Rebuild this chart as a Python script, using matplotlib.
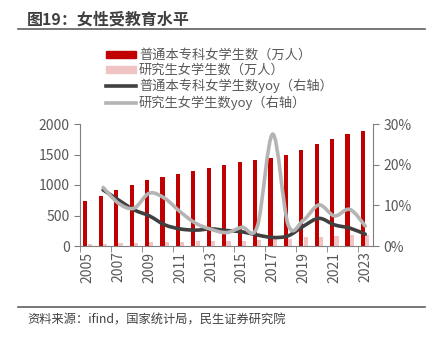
import numpy as np
import matplotlib
matplotlib.use("Agg")
import matplotlib.pyplot as plt
from matplotlib.path import Path
from matplotlib.patches import PathPatch, Patch
from matplotlib.lines import Line2D

plt.rcParams['font.family'] = ['Noto Sans CJK SC', 'DejaVu Sans']

years = list(range(2005, 2024))
undergrad = [730, 825, 920, 1005, 1080, 1130, 1180, 1225, 1275, 1328, 1372, 1415,
             1448, 1492, 1569, 1677, 1754, 1836, 1890]
postgrad = [33, 40, 46, 52, 58, 64, 70, 75, 80, 84, 88, 93, 110, 118, 143, 155, 169, 178, 185]
undergrad_yoy = [None, 13.8, 11.3, 8.9, 7.4, 5.2, 4.2, 3.9, 4.2, 3.8, 3.5, 2.7,
                 2.1, 2.5, 4.9, 6.8, 5.2, 4.4, 2.9]
postgrad_yoy = [None, 14.4, 10.5, 9.3, 13.0, 11.7, 8.4, 5.6, 4.1, 3.3, 4.6, 4.8,
                27.5, 5.2, 6.4, 10.1, 7.4, 9.0, 4.9]

labels = ['普通本专科女学生数（万人）', '研究生女学生数（万人）',
          '普通本专科女学生数yoy（右轴）', '研究生女学生数yoy（右轴）']

red = '#C00000'
pink = '#F0C4C4'
dark = '#404040'
grey = '#B4B4B4'
axc = '#7F7F7F'
txt = '#595959'


def smooth_path(xs, ys):
    # bezier segments through the points, like excel's smoothed line
    pts = np.array(list(zip(xs, ys)), dtype=float)
    verts = [pts[0]]
    codes = [Path.MOVETO]
    n = len(pts)
    for i in range(n - 1):
        p0 = pts[max(i - 1, 0)]
        p1 = pts[i]
        p2 = pts[i + 1]
        p3 = pts[min(i + 2, n - 1)]
        c1 = p1 + (p2 - p0) / 6.0
        c2 = p2 - (p3 - p1) / 6.0
        verts += [c1, c2, p2]
        codes += [Path.CURVE4] * 3
    return Path(verts, codes)


fig = plt.figure(figsize=(4.32, 3.39), dpi=100)
ax = fig.add_axes([80 / 432, 1 - 246 / 339, 293 / 432, 122 / 339])
ax2 = ax.twinx()

x = np.arange(len(years))
ax.bar(x - 0.15, undergrad, width=0.27, color=red, zorder=2)
ax.bar(x + 0.13, postgrad, width=0.27, color=pink, zorder=2)

ax.set_xlim(-0.5, len(years) - 0.5)
ax.set_ylim(0, 2000)
ax.set_yticks([0, 500, 1000, 1500, 2000])
ax2.set_ylim(0, 0.30)
ax2.set_yticks([0, 0.1, 0.2, 0.3])
ax2.set_yticklabels(['0%', '10%', '20%', '30%'])

for vals, c in [(undergrad_yoy, dark), (postgrad_yoy, grey)]:
    xs = [i for i, v in enumerate(vals) if v is not None]
    ys = [v / 100 for v in vals if v is not None]
    ax2.add_patch(PathPatch(smooth_path(xs, ys), fill=False, edgecolor=c,
                            lw=2.6, capstyle='round', zorder=3))

ax.set_xticks(x[::2])
ax.set_xticklabels([str(y) for y in years[::2]], rotation=90)
ax.set_xticks(np.arange(-0.5, len(years), 2), minor=True)
ax.tick_params(axis='x', which='major', length=0, pad=4, labelsize=10, labelcolor=txt)
ax.tick_params(axis='x', which='minor', length=4, color=axc, direction='out')
ax.tick_params(axis='y', length=4, color=axc, labelsize=10, labelcolor=txt)
ax2.tick_params(axis='y', length=4, color=axc, labelsize=10, labelcolor=txt)

for a in (ax, ax2):
    a.spines['top'].set_visible(False)
    for s in ('left', 'right', 'bottom'):
        a.spines[s].set_color(axc)
ax2.spines['left'].set_visible(False)
ax2.spines['bottom'].set_visible(False)
ax.spines['right'].set_visible(False)

handles = [Patch(color=red), Patch(color=pink),
           Line2D([], [], color=dark, lw=2.6), Line2D([], [], color=grey, lw=2.6)]
fig.legend(handles, labels, loc='upper left', bbox_to_anchor=(106 / 432, 1 - 49 / 339),
           frameon=False, fontsize=9.5, handlelength=2.3, handleheight=0.5,
           handletextpad=0.2, labelspacing=0.15, borderpad=0, borderaxespad=0,
           labelcolor=txt)

fig.text(27 / 432, 1 - 20 / 339, '图19：女性受教育水平', fontsize=11.5, fontweight='bold',
         color='#404040', va='center', ha='left')
fig.add_artist(Line2D([18 / 432, 425 / 432], [1 - 29 / 339] * 2, color='#606060', lw=1.2))
fig.add_artist(Line2D([18 / 432, 425 / 432], [1 - 307 / 339] * 2, color='#606060', lw=1.2))
fig.text(27 / 432, 1 - 320 / 339, '资料来源：ifind，国家统计局，民生证券研究院', fontsize=8.8,
         color='#404040', va='center', ha='left')

fig.savefig('out.png', dpi=100)
